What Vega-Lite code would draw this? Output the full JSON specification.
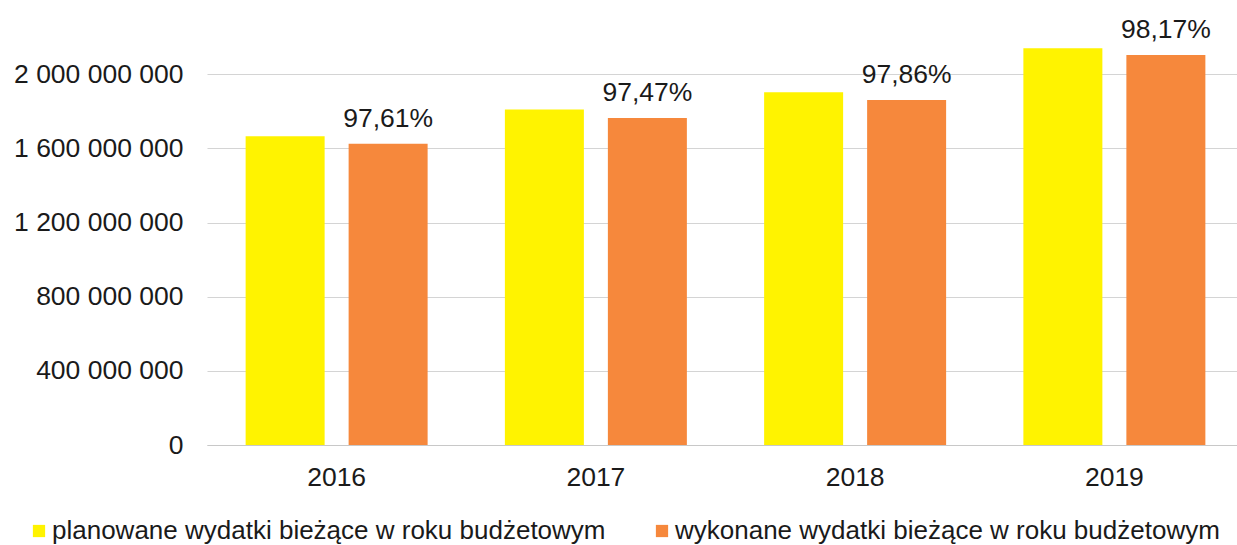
{
  "$schema": "https://vega.github.io/schema/vega-lite/v6.json",
  "width": 1037,
  "height": 445,
  "autosize": {"type": "none"},
  "padding": {"left": 207, "top": 0, "right": 0, "bottom": 100},
  "background": "white",
  "config": {
    "font": "Liberation Sans",
    "view": {"stroke": null},
    "locale": {"number": {"decimal": ",", "thousands": " ", "grouping": [3], "currency": ["", " zł"]}}
  },
  "data": {
    "values": [
      {"rok": "2016", "seria": "planowane wydatki bieżące w roku budżetowym", "kwota": 1665000000, "etykieta": ""},
      {"rok": "2016", "seria": "wykonane wydatki bieżące w roku budżetowym", "kwota": 1625000000, "etykieta": "97,61%"},
      {"rok": "2017", "seria": "planowane wydatki bieżące w roku budżetowym", "kwota": 1810000000, "etykieta": ""},
      {"rok": "2017", "seria": "wykonane wydatki bieżące w roku budżetowym", "kwota": 1764000000, "etykieta": "97,47%"},
      {"rok": "2018", "seria": "planowane wydatki bieżące w roku budżetowym", "kwota": 1902000000, "etykieta": ""},
      {"rok": "2018", "seria": "wykonane wydatki bieżące w roku budżetowym", "kwota": 1861000000, "etykieta": "97,86%"},
      {"rok": "2019", "seria": "planowane wydatki bieżące w roku budżetowym", "kwota": 2140000000, "etykieta": ""},
      {"rok": "2019", "seria": "wykonane wydatki bieżące w roku budżetowym", "kwota": 2103000000, "etykieta": "98,17%"}
    ]
  },
  "encoding": {
    "x": {
      "field": "rok", "type": "nominal", "title": null,
      "scale": {"paddingInner": 0.298, "paddingOuter": 0.149},
      "axis": {"labelAngle": 0, "labelFontSize": 26.5, "labelColor": "#1a1a1a", "labelPadding": 19, "ticks": false, "domainColor": "#c8c8c8", "domainWidth": 1.2}
    },
    "xOffset": {
      "field": "seria", "type": "nominal",
      "scale": {"paddingInner": 0.233, "paddingOuter": 0}
    },
    "y": {
      "field": "kwota", "type": "quantitative", "title": null,
      "scale": {"domain": [0, 2400000000], "nice": false},
      "axis": {"values": [0, 400000000, 800000000, 1200000000, 1600000000, 2000000000], "format": ",d", "labelFontSize": 26.5, "labelColor": "#1a1a1a", "labelPadding": 24, "ticks": false, "domain": false, "gridColor": "#d4d4d4", "gridWidth": 1.2}
    }
  },
  "layer": [
    {
      "mark": {"type": "bar"},
      "encoding": {
        "color": {
          "field": "seria", "type": "nominal", "title": null,
          "scale": {"domain": ["planowane wydatki bieżące w roku budżetowym", "wykonane wydatki bieżące w roku budżetowym"], "range": ["#FFF300", "#F6883C"]},
          "legend": {"orient": "none", "direction": "horizontal", "legendX": -181, "legendY": 518, "symbolType": "square", "symbolSize": 150, "symbolStrokeWidth": 0, "labelFontSize": 26, "labelColor": "#1a1a1a", "labelLimit": 1000, "columnPadding": 43, "labelOffset": 0, "padding": 0}
        }
      }
    },
    {
      "transform": [{"filter": "datum.etykieta != ''"}],
      "mark": {"type": "text", "fontSize": 26.5, "color": "#1a1a1a", "baseline": "alphabetic", "dy": -17},
      "encoding": {"text": {"field": "etykieta"}}
    }
  ]
}
